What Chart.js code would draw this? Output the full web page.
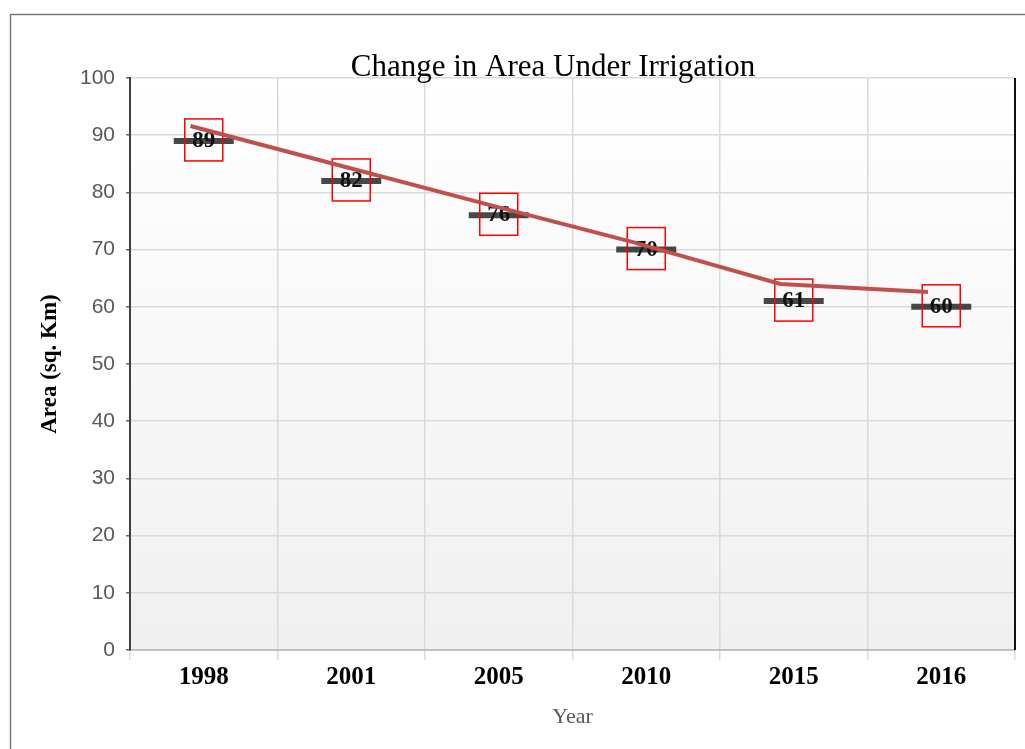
<!DOCTYPE html>
<html>
<head>
<meta charset="utf-8">
<script src="https://cdn.jsdelivr.net/npm/chart.js@4/dist/chart.umd.min.js"></script>
</head>
<body style="margin:0; background:#fff">
<canvas id="areaChart" width="1025" height="749"></canvas>
<script>
const years = ["1998", "2001", "2005", "2010", "2015", "2016"];
const areaValues = [89, 82, 76, 70, 61, 60];
const trendValues = [91.6, 84.8, 78.0, 71.3, 64.0, 62.6];

const serif = '"Liberation Serif", "Times New Roman", serif';
const sans = '"Liberation Sans", Arial, sans-serif';

// outer frame, gradient plot background, right border line and title
const decorations = {
  id: "decorations",
  beforeDraw(chart) {
    const { ctx, chartArea: a } = chart;
    ctx.save();
    ctx.strokeStyle = "#777";
    ctx.lineWidth = 1.5;
    ctx.beginPath();
    ctx.moveTo(10.5, chart.height);
    ctx.lineTo(10.5, 14.5);
    ctx.lineTo(chart.width, 14.5);
    ctx.stroke();
    const g = ctx.createLinearGradient(0, a.top, 0, a.bottom);
    g.addColorStop(0, "#ffffff");
    g.addColorStop(1, "#f0f0f0");
    ctx.fillStyle = g;
    ctx.fillRect(a.left, a.top, a.right - a.left, a.bottom - a.top);
    ctx.restore();
  },
  afterDraw(chart) {
    const { ctx, chartArea: a } = chart;
    ctx.save();
    ctx.strokeStyle = "#111";
    ctx.lineWidth = 2;
    ctx.beginPath();
    ctx.moveTo(a.right, a.top);
    ctx.lineTo(a.right, a.bottom);
    ctx.stroke();
    ctx.fillStyle = "#000";
    ctx.font = "31px " + serif;
    ctx.textAlign = "center";
    ctx.textBaseline = "alphabetic";
    ctx.fillText("Change in Area Under Irrigation", 553, 76);
    ctx.restore();
  },
};

// boxed value labels on the markers
const boxedLabels = {
  id: "boxedLabels",
  afterDatasetDraw(chart, args) {
    if (args.index !== 0) return;
    const { ctx } = chart;
    const meta = chart.getDatasetMeta(0);
    ctx.save();
    ctx.font = "bold 23px " + serif;
    ctx.textAlign = "center";
    ctx.textBaseline = "middle";
    meta.data.forEach((pt, i) => {
      ctx.fillStyle = "#111";
      ctx.fillText(String(areaValues[i]), pt.x, pt.y);
      ctx.strokeStyle = "#ff0000";
      ctx.lineWidth = 1.5;
      ctx.strokeRect(pt.x - 19, pt.y - 22, 38, 42);
    });
    ctx.restore();
  },
};

const chart = new Chart(document.getElementById("areaChart"), {
  type: "line",
  data: {
    labels: years,
    datasets: [
      {
        label: "Area",
        data: areaValues,
        showLine: false,
        pointStyle: "line",
        pointRadius: 30,
        pointHoverRadius: 30,
        pointBorderWidth: 6,
        borderColor: "rgba(40, 40, 40, 0.85)",
        backgroundColor: "rgba(40, 40, 40, 0.85)",
        order: 2,
      },
      {
        label: "Trend",
        data: trendValues.map((v, i) => ({ x: i, y: v })),
        xAxisID: "x2",
        borderColor: "#c0504d",
        borderWidth: 4,
        pointRadius: 0,
        tension: 0,
        order: 1,
      },
    ],
  },
  options: {
    responsive: false,
    animation: false,
    layout: { autoPadding: false, padding: { top: 78, right: 10, left: 0, bottom: 0 } },
    plugins: {
      legend: { display: false },
      tooltip: { enabled: false },
      title: { display: false },
    },
    scales: {
      x: {
        offset: true,
        grid: { offset: true, color: "#dadada", lineWidth: 1.5, tickLength: 10 },
        border: { color: "#bfbfbf", width: 2 },
        ticks: { color: "#000", font: { family: serif, size: 25, weight: "bold" }, padding: 3, maxRotation: 0 },
        title: { display: true, text: "Year", color: "#595959", font: { family: serif, size: 22 }, padding: { bottom: 19 } },
        afterFit(s) {
          s.height = 99;
          s.paddingLeft = 0;
          s.paddingRight = 0;
        },
      },
      x2: {
        type: "linear",
        display: false,
        min: -0.41,
        max: 5.59,
      },
      y: {
        min: 0,
        max: 100,
        grid: { color: "#dadada", lineWidth: 1.5, tickLength: 4, tickColor: "#666" },
        border: { color: "#404040", width: 2 },
        ticks: { stepSize: 10, color: "#595959", font: { family: sans, size: 21 }, padding: 11 },
        title: { display: true, text: "Area (sq. Km)", color: "#000", font: { family: serif, size: 23, weight: "bold" }, padding: { top: 36 } },
        afterFit(s) { s.width = 130; },
      },
    },
  },
  plugins: [decorations, boxedLabels],
});
</script>
</body>
</html>
